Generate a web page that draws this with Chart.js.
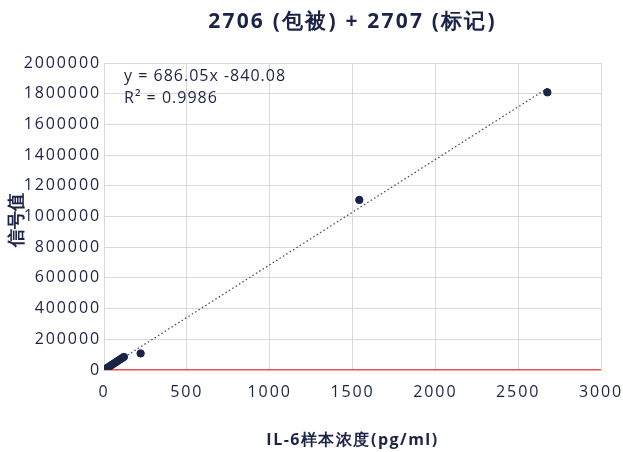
<!DOCTYPE html>
<html>
<head>
<meta charset="utf-8">
<script src="https://cdn.jsdelivr.net/npm/chart.js@4.4.1/dist/chart.umd.min.js"></script>
<style>
  html, body { margin: 0; padding: 0; background: #ffffff; }
  #wrap { width: 623px; height: 452px; position: relative; }
</style>
</head>
<body>
<div id="wrap"><canvas id="c" width="623" height="452"></canvas></div>
<script>
// IL-6 standard curve: concentration (pg/ml) vs. signal
const concentrations = [0, 1.5, 3, 6, 12, 24, 36, 48, 60, 72, 84, 96, 108, 120, 221, 1541, 2676];
const signals = [300, 1200, 2300, 4500, 8800, 17000, 25500, 34000, 42500, 51000, 59500, 68000, 76500, 85000, 108000, 1108000, 1809000];

// Linear fit reported on the chart
const fitSlope = 686.05;
const fitIntercept = -840.08;
const fitRange = [0, 2676];
const fitR2 = 0.9986;

const xTicks = [0, 500, 1000, 1500, 2000, 2500, 3000];
const yTicks = [0, 200000, 400000, 600000, 800000, 1000000, 1200000, 1400000, 1600000, 1800000, 2000000];

const titleText = '2706 (包被) + 2707 (标记)';
const xTitle = 'IL-6样本浓度(pg/ml)';
const yTitle = '信号值';

const navy = '#1b2346';
const FONT = '"Open Sans", sans-serif';

const points = concentrations.map((x, i) => ({ x: x, y: signals[i] }));
const fitLine = fitRange.map(x => ({ x: x, y: fitSlope * x + fitIntercept }));

// Wider tracking for all text drawn on the canvas
const tracking = {
  id: 'tracking',
  beforeDraw(chart) {
    if ('letterSpacing' in chart.ctx) chart.ctx.letterSpacing = '1.9px';
  }
};

// Titles and the fit equation are placed relative to the plot area
const annotate = {
  id: 'annotate',
  afterDraw(chart) {
    const { ctx, chartArea } = chart;
    const cx = (chartArea.left + chartArea.right) / 2;
    ctx.save();
    ctx.fillStyle = navy;
    ctx.textAlign = 'center';
    ctx.textBaseline = 'middle';
    if ('letterSpacing' in ctx) ctx.letterSpacing = '2.2px';
    ctx.font = 'bold 21px ' + FONT;
    ctx.fillText(titleText, cx, 22);
    if ('letterSpacing' in ctx) ctx.letterSpacing = '1.5px';
    ctx.font = 'bold 16px ' + FONT;
    ctx.fillText(xTitle, cx, 440);
    if ('letterSpacing' in ctx) ctx.letterSpacing = '0px';
    ctx.translate(17, (chartArea.top + chartArea.bottom) / 2 + 3);
    ctx.rotate(-Math.PI / 2);
    ctx.font = 'bold 18px ' + FONT;
    ctx.fillText(yTitle, 0, 0);
    ctx.restore();

    ctx.save();
    ctx.fillStyle = navy;
    ctx.textAlign = 'left';
    ctx.textBaseline = 'middle';
    if ('letterSpacing' in ctx) ctx.letterSpacing = '1px';
    ctx.font = '16px ' + FONT;
    const sign = fitIntercept < 0 ? '-' : '+';
    ctx.fillText('y = ' + fitSlope.toFixed(2) + 'x ' + sign + Math.abs(fitIntercept).toFixed(2), 124, 76);
    ctx.fillText('R² = ' + fitR2, 124, 98);
    ctx.restore();
  }
};

new Chart(document.getElementById('c'), {
  type: 'scatter',
  data: {
    datasets: [
      {
        type: 'line',
        data: fitLine,
        borderColor: '#3a3f55',
        borderWidth: 1.2,
        borderDash: [1.5, 2.5],
        pointRadius: 0,
        fill: false,
        order: 2
      },
      {
        data: points,
        backgroundColor: navy,
        borderColor: navy,
        pointRadius: 3.7,
        pointHoverRadius: 3.7,
        order: 1
      }
    ]
  },
  plugins: [tracking, annotate],
  options: {
    responsive: false,
    animation: false,
    layout: { padding: { top: 63, right: 22, left: 0, bottom: 0 } },
    plugins: { legend: { display: false }, tooltip: { enabled: false }, title: { display: false } },
    scales: {
      x: {
        type: 'linear',
        min: 0, max: 3000,
        afterBuildTicks(s) { s.ticks = xTicks.map(v => ({ value: v })); },
        afterFit(s) { s.height = 82; s.paddingLeft = 0; s.paddingRight = 0; },
        grid: {
          color: '#d9d9d9', lineWidth: 1, drawTicks: false
        },
        border: { display: false },
        ticks: { color: navy, font: { family: FONT, size: 16 }, padding: 13, maxRotation: 0,
                 callback: v => String(v) }
      },
      y: {
        type: 'linear',
        min: 0, max: 2000000,
        afterBuildTicks(s) { s.ticks = yTicks.map(v => ({ value: v })); },
        afterFit(s) { s.width = 104; s.paddingTop = 0; s.paddingBottom = 0; },
        grid: {
          color: ctx => ctx.tick && ctx.tick.value === 0 ? '#e8524f' : '#d9d9d9',
          lineWidth: ctx => ctx.tick && ctx.tick.value === 0 ? 1.5 : 1,
          drawTicks: false
        },
        border: { display: false },
        ticks: { color: navy, font: { family: FONT, size: 16 }, padding: 3,
                 callback: v => String(v) }
      }
    }
  }
});
</script>
</body>
</html>
